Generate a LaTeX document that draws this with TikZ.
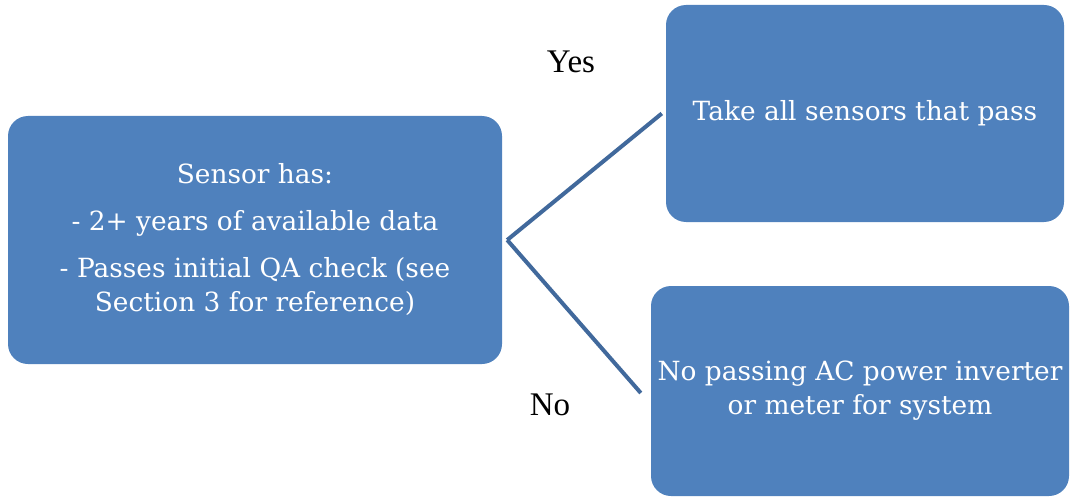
\documentclass[tikz,border=0pt]{standalone}
\usepackage{fontspec}
\setmainfont{DejaVu Serif}
\newfontfamily\labelfont{Liberation Serif}
\usetikzlibrary{positioning}
\definecolor{boxblue}{HTML}{4F81BD}
\definecolor{linkblue}{HTML}{41699C}

\begin{document}
\begin{tikzpicture}
		[x=1pt,y=-1pt,
		block/.style ={rectangle, fill=boxblue, text=white, align=center, rounded corners=20pt, inner sep=0pt, font=\fontsize{26.4}{34}\selectfont},
		line/.style ={draw=linkblue, line width=4pt},
		answer/.style ={font=\labelfont\fontsize{33}{36}\selectfont}]
		\useasboundingbox (0,0) rectangle (1070,497);

		\node[block, minimum width=494pt, minimum height=248pt] (sensor) at (255,240)
		{Sensor has:\\[13pt]- 2+ years of available data\\[13pt]- Passes initial QA check (see\\Section 3 for reference)};
		\node[block, minimum width=398pt, minimum height=217pt] (take) at (865,113.5) {Take all sensors that pass};
		\node[block, minimum width=418pt, minimum height=210pt] (nopass) at (860,391) {No passing AC power inverter\\or meter for system};

		\coordinate (fork) at ([xshift=5pt]sensor.east);
		\path[line]
		(fork) -- ([xshift=-4pt]take.west)
		(fork) -- ([xshift=-10pt,yshift=-2pt]nopass.west);

		\node[answer] (yes) at (571,62) {Yes};
		\node[answer] (no) at (550,405) {No};
	\end{tikzpicture}
\end{document}
